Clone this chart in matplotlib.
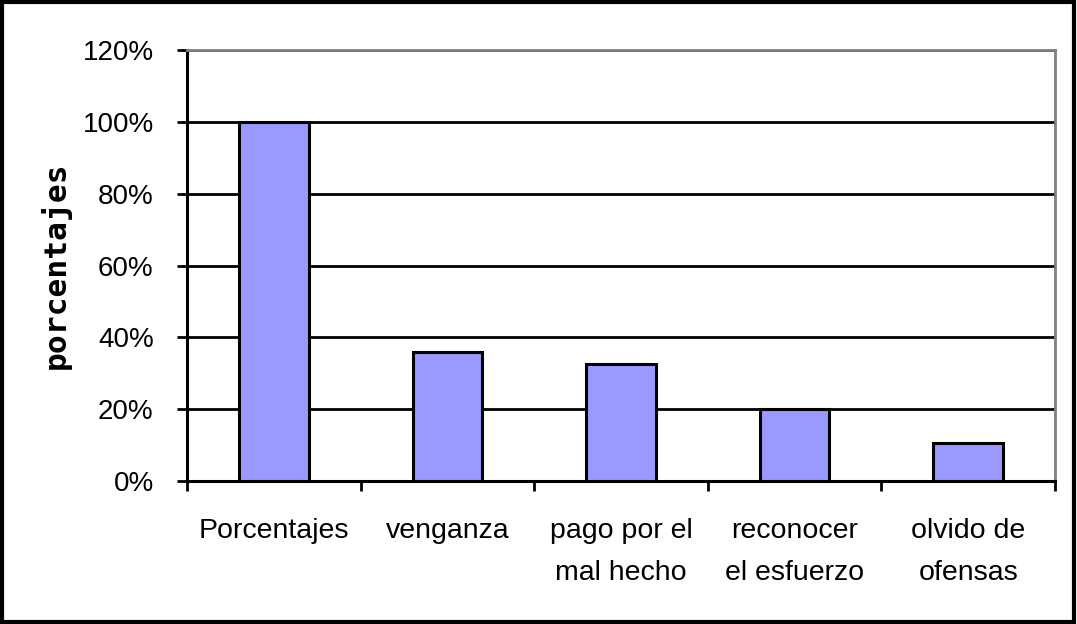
import matplotlib
matplotlib.use("Agg")
import matplotlib.pyplot as plt
from matplotlib.patches import Rectangle
from matplotlib.ticker import FuncFormatter, FixedLocator

categories = ["Porcentajes", "venganza", "pago por el\nmal hecho",
              "reconocer\nel esfuerzo", "olvido de\nofensas"]
values = [1.00, 0.36, 0.326, 0.20, 0.105]
yticks = [0, 0.2, 0.4, 0.6, 0.8, 1.0, 1.2]

plt.rcParams['font.family'] = ['Liberation Sans', 'DejaVu Sans']

fig = plt.figure(figsize=(10.77, 6.24), dpi=100)
ax = fig.add_axes([187/1077, (624-481)/624, (1055-187)/1077, (481-50)/624])

x = list(range(len(categories)))
ax.bar(x, values, width=0.4, color='#9999ff', edgecolor='black', linewidth=2.2, zorder=3)

ax.set_xlim(-0.5, len(categories) - 0.5)
ax.set_ylim(0, 1.2)
ax.set_yticks(yticks)
ax.yaxis.set_major_formatter(FuncFormatter(lambda v, p: f"{v*100:.0f}%"))
ax.grid(axis='y', color='black', linewidth=2, zorder=1)
ax.set_axisbelow(True)

ax.xaxis.set_major_locator(FixedLocator([i - 0.5 for i in range(len(categories) + 1)]))
ax.set_xticklabels([])
ax.xaxis.set_minor_locator(FixedLocator(x))
ax.set_xticklabels(categories, minor=True, fontsize=20.5, linespacing=1.78)
ax.tick_params(axis='x', which='minor', length=0, pad=27)
ax.tick_params(axis='x', which='major', direction='out', length=7, width=2, color='black')
ax.tick_params(axis='y', direction='out', length=7, width=2, labelsize=20, pad=17)

for s in ['left', 'bottom']:
    ax.spines[s].set_linewidth(2.2)
    ax.spines[s].set_color('black')
for s in ['top', 'right']:
    ax.spines[s].set_linewidth(2)
    ax.spines[s].set_color('#808080')

fig.text(55/1077, 1 - 265/624, "porcentajes", rotation=90, ha='center', va='center',
         family='DejaVu Sans Mono', fontweight='bold', fontsize=22.5)

fig.patches.append(Rectangle((0.002, 0.003), 0.995, 0.994, transform=fig.transFigure,
                             fill=False, edgecolor='black', linewidth=3))

fig.savefig("out.png", dpi=100)
